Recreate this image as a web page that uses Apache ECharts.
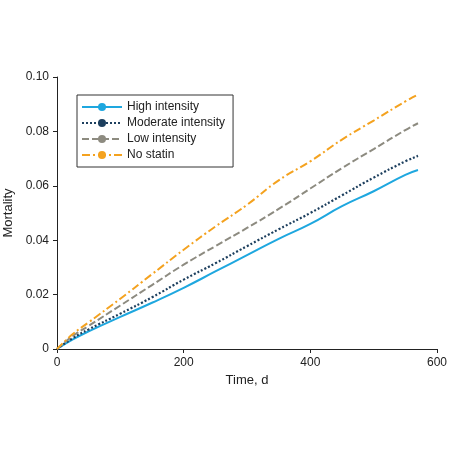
<!DOCTYPE html>
<html>
<head>
<meta charset="utf-8">
<script src="https://cdn.jsdelivr.net/npm/echarts@6/dist/echarts.min.js"></script>
<style>html,body{margin:0;padding:0;background:#fff}#c{width:450px;height:450px}</style>
</head>
<body>
<div id="c"></div>
<script>
const days = [0, 25, 50, 100, 150, 200, 250, 300, 350, 400, 450, 500, 550, 570];
const highIntensity = [0, 0.0035, 0.0065, 0.0118, 0.0170, 0.0225, 0.0285, 0.0345, 0.0405, 0.0460, 0.0525, 0.0580, 0.0640, 0.0658];
const moderateIntensity = [0, 0.0040, 0.0072, 0.0130, 0.0190, 0.0255, 0.0315, 0.0378, 0.0440, 0.0500, 0.0565, 0.0630, 0.0690, 0.0710];
const lowIntensity = [0, 0.0048, 0.0085, 0.0160, 0.0235, 0.0310, 0.0378, 0.0445, 0.0515, 0.0590, 0.0665, 0.0735, 0.0805, 0.0830];
const noStatin = [0, 0.0055, 0.0098, 0.0185, 0.0275, 0.0365, 0.0450, 0.0530, 0.0620, 0.0690, 0.0770, 0.0840, 0.0910, 0.0935];

const toPairs = vals => days.map((d, i) => [d, vals[i]]);
const font = 'Liberation Sans Narrow, Liberation Sans, sans-serif';

const chart = echarts.init(document.getElementById('c'));
const mk = (name, vals, color, type, width) => ({
  name, type: 'line', data: toPairs(vals), showSymbol: false, smooth: true, symbol: 'none',
  lineStyle: { color, type, width }, itemStyle: { color }
});
chart.setOption({
  animation: false,
  grid: { left: 57, right: 13, top: 77, bottom: 101, outerBoundsMode: 'none', containLabel: false },
  legend: {
    left: 77, top: 95, orient: 'vertical', itemGap: 4, itemWidth: 40, itemHeight: 10,
    borderColor: '#333', borderWidth: 1, padding: [6, 8, 6, 4],
    textStyle: { fontFamily: font, fontSize: 12, color: '#222' },
    data: ['High intensity', 'Moderate intensity', 'Low intensity', 'No statin']
  },
  xAxis: {
    type: 'value', min: 0, max: 600, interval: 200,
    name: 'Time, d', nameLocation: 'middle', nameGap: 24,
    nameTextStyle: { fontFamily: font, fontSize: 13, color: '#222' },
    axisLine: { show: true, lineStyle: { color: '#222' } },
    axisTick: { show: true, length: 4, lineStyle: { color: '#222' } },
    axisLabel: { fontFamily: font, fontSize: 12, color: '#222' },
    splitLine: { show: false }
  },
  yAxis: {
    type: 'value', min: 0, max: 0.1, interval: 0.02,
    name: 'Mortality', nameLocation: 'middle', nameGap: 38,
    nameTextStyle: { fontFamily: font, fontSize: 13, color: '#222' },
    axisLine: { show: true, lineStyle: { color: '#222' } },
    axisTick: { show: true, length: 4, lineStyle: { color: '#222' } },
    axisLabel: { fontFamily: font, fontSize: 12, color: '#222', formatter: v => v === 0 ? '0' : v.toFixed(2) },
    splitLine: { show: false }
  },
  series: [
    mk('High intensity', highIntensity, '#1ea7df', 'solid', 2),
    mk('Moderate intensity', moderateIntensity, '#1d3f5e', [2, 2], 2.2),
    mk('Low intensity', lowIntensity, '#8d8b80', [7, 3], 2),
    mk('No statin', noStatin, '#f4a21f', [8, 3, 2, 3], 2)
  ]
});
</script>
</body>
</html>
